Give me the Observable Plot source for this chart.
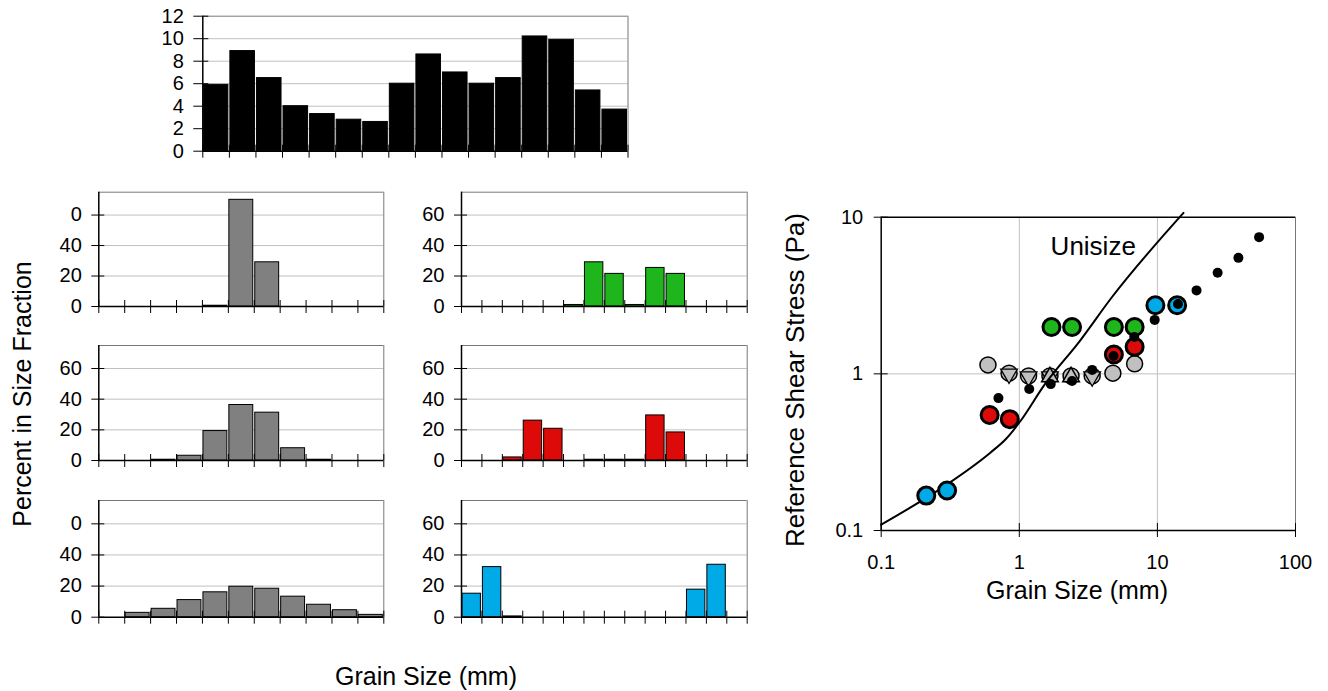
<!DOCTYPE html>
<html>
<head>
<meta charset="utf-8">
<script src="https://cdn.jsdelivr.net/npm/d3@7"></script>
<script src="https://cdn.jsdelivr.net/npm/@observablehq/plot@0.6"></script>
<style>
  html, body { margin: 0; padding: 0; background: #fff; }
  #wrap { position: relative; width: 1328px; height: 691px; overflow: hidden; background: #fff;
          font-family: "Liberation Sans", Arial, Helvetica, sans-serif; color: #000; }
  #wrap svg { position: absolute; overflow: visible; }
  .lbl { position: absolute; white-space: nowrap; transform: translate(-50%, -50%); line-height: 1; }
  .rot { transform: translate(-50%, -50%) rotate(-90deg); }
</style>
</head>
<body>
<div id="wrap"></div>
<script>
// ---------------- DATA ----------------
// Top histogram: percent in each of 16 size fractions (whole mixture)
const topBins   = d3.range(16);
const topValues = [5.9, 8.9, 6.5, 4.0, 3.3, 2.8, 2.6, 6.0, 8.6, 7.0, 6.0, 6.5, 10.2, 9.9, 5.4, 3.7];
const topTicksY = [0, 2, 4, 6, 8, 10, 12];

// Left column (unimodal mixtures), 11 size fractions
const leftBins = d3.range(11);
const left1 = [0, 0, 0, 0, 0.5, 70, 29, 0, 0, 0, 0];
const left2 = [0, 0, 0.5, 3.1, 19.2, 36.2, 31.2, 8.0, 0.5, 0, 0];
const left3 = [0, 2.8, 5.4, 11, 16, 19.6, 18.3, 13.2, 8.0, 4.5, 1.5];

// Right column (bimodal mixtures), 14 size fractions
const rightBins = d3.range(14);
const rightGreen = [0, 0, 0, 0, 0, 1, 29, 21.4, 1, 25.3, 21.4, 0, 0, 0];
const rightRed   = [0, 0, 2, 26, 20.7, 0, 0.5, 0.5, 0.5, 29.4, 18.3, 0, 0, 0];
const rightBlue  = [15.1, 32.2, 0.5, 0, 0, 0, 0, 0, 0, 0, 0, 17.7, 33.7, 0];

const panelTicksY = [0, 20, 40, 60];
const panelTickLabels1 = ["0", "20", "40", "0"];   // top label clipped in original
const panelTickLabels2 = ["0", "20", "40", "60"];

// Scatter: reference shear stress vs grain size
const greyX = [0.593, 0.843, 1.167, 1.667, 2.37, 3.37, 4.76, 6.84];
const greyY = [1.14, 1.01, 0.97, 0.97, 0.97, 0.97, 1.01, 1.16];
const triDownX = [0.843, 1.167, 1.667, 3.37];
const triDownY = [1.0, 0.96, 0.96, 0.96];
const triUpX = [1.667, 2.37];
const triUpY = [0.955, 0.955];
const greenX = [1.71, 2.41, 4.84, 6.84];
const greenY = [1.99, 1.99, 1.99, 1.99];
const redX = [0.61, 0.853, 4.84, 6.84];
const redY = [0.546, 0.514, 1.33, 1.49];
const blueX = [0.212, 0.30, 9.67, 13.9];
const blueY = [0.167, 0.18, 2.74, 2.74];
const blackX = [0.706, 1.18, 1.69, 2.41, 3.37, 4.81, 6.8, 9.56, 14.1, 19.2, 27.3, 38.6, 54.5];
const blackY = [0.70, 0.80, 0.86, 0.90, 1.06, 1.30, 1.72, 2.21, 2.79, 3.41, 4.42, 5.5, 7.46];
const unisizeX = [0.1, 0.3, 0.62, 0.80, 1.02, 1.52, 2.74, 4.65, 15.45];
const unisizeY = [0.109, 0.197, 0.315, 0.384, 0.50, 0.85, 1.62, 3.06, 10.65];
const unisizeLabel = {x: 3.43, y: 6.5, text: "Unisize"};
const scatterTicksX = [0.1, 1, 10, 100];
const scatterTicksY = [0.1, 1, 10];

// ---------------- DRAWING ----------------
const FONT = '"Liberation Sans", Arial, Helvetica, sans-serif';
const wrap = document.getElementById("wrap");

function place(svg, left, top) {
  svg.style.left = left + "px";
  svg.style.top = top + "px";
  wrap.appendChild(svg);
}

function hist({bins, values, color, yDomain, yTicks, yLabels, grid, width, height, ml, mr, mt, mb, yTickOut, yPad}) {
  const nb = bins.length;
  const data = bins.map((b, i) => ({i: b, v: values[i]})).filter(d => d.v > 0);
  const plotW = width - ml - mr;
  const plotH = height - mt - mb;
  const xt = d3.range(nb + 1);
  return Plot.plot({
    width, height, marginLeft: ml, marginRight: mr, marginTop: mt, marginBottom: mb,
    style: {fontFamily: FONT, fontSize: "20px", background: "transparent", color: "black", overflow: "visible"},
    x: {domain: [0, nb], axis: null},
    y: {domain: yDomain, axis: null},
    marks: [
      Plot.ruleY(grid, {y: d => d, stroke: "#c0c0c0", strokeWidth: 1}),
      Plot.ruleY([yDomain[1]], {y: d => d, stroke: "#777", strokeWidth: 1}),
      Plot.ruleX([nb], {x: d => d, stroke: "#777", strokeWidth: 1}),
      Plot.rectY(data, {x1: "i", x2: d => d.i + 1, y: "v", fill: color, stroke: "black", strokeWidth: 1, insetLeft: 1, insetRight: 1}),
      Plot.ruleY([0], {y: d => d, stroke: "black", strokeWidth: 1.5}),
      Plot.ruleX([0], {x: d => d, stroke: "black", strokeWidth: 1.5}),
      Plot.axisX({ticks: xt, tickSize: 7, tickFormat: () => "", label: null, stroke: "black"}),
      Plot.tickX(xt, {x: d => d, insetTop: plotH - 6, stroke: "black"}),
      Plot.axisY({ticks: yTicks, tickSize: yTickOut, tickPadding: yPad, fontSize: 20, label: null,
                  tickFormat: (d) => yLabels[yTicks.indexOf(d)], stroke: "black"}),
      Plot.tickY(yTicks, {y: d => d, insetRight: plotW - 6, stroke: "black"})
    ]
  });
}

// Top histogram
place(hist({bins: topBins, values: topValues, color: "black", yDomain: [0, 12],
  yTicks: topTicksY, yLabels: topTicksY.map(String), grid: [2, 4, 6, 8, 10],
  width: 650, height: 172, ml: 202.3, mr: 22.5, mt: 15.7, mb: 21.3, yTickOut: 9, yPad: 10}), 0, 0);

// Panel rows geometry
const rows = [
  {top: 178, height: 140, mt: 13.7, mb: 12},
  {top: 330, height: 145, mt: 15, mb: 15},
  {top: 485, height: 145, mt: 15, mb: 13.3}
];
const leftVals = [left1, left2, left3];
const leftLabels = [panelTickLabels1, panelTickLabels2, panelTickLabels1];
const rightVals = [rightGreen, rightRed, rightBlue];
const rightColors = ["#1fb51c", "#dd0a0a", "#00aae6"];

rows.forEach((r, k) => {
  place(hist({bins: leftBins, values: leftVals[k], color: "#808080", yDomain: [0, 75],
    yTicks: panelTicksY, yLabels: leftLabels[k], grid: [20, 40, 60],
    width: 400, height: r.height, ml: 98.3, mr: 16.7, mt: r.mt, mb: r.mb, yTickOut: 7, yPad: 10}), 0, r.top);
  place(hist({bins: rightBins, values: rightVals[k], color: rightColors[k], yDomain: [0, 75],
    yTicks: panelTicksY, yLabels: panelTickLabels2, grid: [20, 40, 60],
    width: 360, height: r.height, ml: 61, mr: 13.3, mt: r.mt, mb: r.mb, yTickOut: 7, yPad: 10}), 400, r.top);
});

// Scatter plot
const pts = (xs, ys) => xs.map((x, i) => ({x, y: ys[i]}));
const triDown = {
  draw(context, size) {
    const s3 = Math.sqrt(3);
    const y = -Math.sqrt(size / (s3 * 3));
    context.moveTo(0, -y * 2);
    context.lineTo(-s3 * y, y);
    context.lineTo(s3 * y, y);
    context.closePath();
  }
};
{
  const W = 520, H = 420, ml = 80.7, mr = 25, mt = 36.7, mb = 70;
  const plotW = W - ml - mr, plotH = H - mt - mb;
  const sc = Plot.plot({
    width: W, height: H, marginLeft: ml, marginRight: mr, marginTop: mt, marginBottom: mb,
    style: {fontFamily: FONT, fontSize: "20px", background: "transparent", color: "black", overflow: "visible"},
    x: {type: "log", domain: [0.1, 100], axis: null},
    y: {type: "log", domain: [0.1, 10], axis: null},
    marks: [
      Plot.ruleX([1, 10], {x: d => d, stroke: "#c0c0c0"}),
      Plot.ruleY([1], {y: d => d, stroke: "#c0c0c0"}),
      Plot.ruleX([100], {x: d => d, stroke: "#777"}),
      Plot.ruleY([10], {y: d => d, stroke: "black", strokeWidth: 1.5}),
      Plot.ruleX([0.1], {x: d => d, stroke: "black", strokeWidth: 1.5}),
      Plot.ruleY([0.1], {y: d => d, stroke: "black", strokeWidth: 1.5}),
      Plot.axisX({ticks: scatterTicksX, tickSize: 7, tickPadding: 17, fontSize: 20, label: null, tickFormat: d => String(d), stroke: "black"}),
      Plot.tickX(scatterTicksX, {x: d => d, insetTop: plotH - 7, stroke: "black"}),
      Plot.axisY({ticks: scatterTicksY, tickSize: 7, tickPadding: 11, fontSize: 20, label: null, tickFormat: d => String(d), stroke: "black"}),
      Plot.tickY(scatterTicksY, {y: d => d, insetRight: plotW - 7, stroke: "black"}),
      Plot.dot(pts(greyX, greyY), {x: "x", y: "y", r: 8, fill: "#c0c0c0", stroke: "black", strokeWidth: 1.5}),
      Plot.dot(pts(triDownX, triDownY), {x: "x", y: "y", r: 6.2, symbol: triDown, fill: "#c0c0c0", stroke: "black", strokeWidth: 1.3}),
      Plot.dot(pts(triUpX, triUpY), {x: "x", y: "y", r: 6.2, symbol: "triangle", fill: "#c0c0c0", stroke: "black", strokeWidth: 1.5}),
      Plot.line(pts(unisizeX, unisizeY), {x: "x", y: "y", stroke: "black", strokeWidth: 2, curve: "monotone-x"}),
      Plot.text([unisizeLabel], {x: "x", y: "y", text: "text", fontSize: 26, fill: "black"}),
      Plot.dot(pts(greenX, greenY), {x: "x", y: "y", r: 8.5, fill: "#1fb51c", stroke: "black", strokeWidth: 3}),
      Plot.dot(pts(redX, redY), {x: "x", y: "y", r: 8.5, fill: "#dd0a0a", stroke: "black", strokeWidth: 3}),
      Plot.dot(pts(blueX, blueY), {x: "x", y: "y", r: 8.5, fill: "#00aae6", stroke: "black", strokeWidth: 3}),
      Plot.dot(pts(blackX, blackY), {x: "x", y: "y", r: 5, fill: "black", stroke: "none"})
    ]
  });
  place(sc, 800, 180);
}

// Axis titles (real text)
function label(text, x, y, size, rotate) {
  const d = document.createElement("div");
  d.className = "lbl" + (rotate ? " rot" : "");
  d.style.left = x + "px";
  d.style.top = y + "px";
  d.style.fontSize = size + "px";
  d.textContent = text;
  wrap.appendChild(d);
}
label("Percent in Size Fraction", 22, 394, 25, true);
label("Grain Size (mm)", 426, 676, 25, false);
label("Reference Shear Stress (Pa)", 795, 380, 26, true);
label("Grain Size (mm)", 1077, 590, 25, false);
</script>
</body>
</html>
